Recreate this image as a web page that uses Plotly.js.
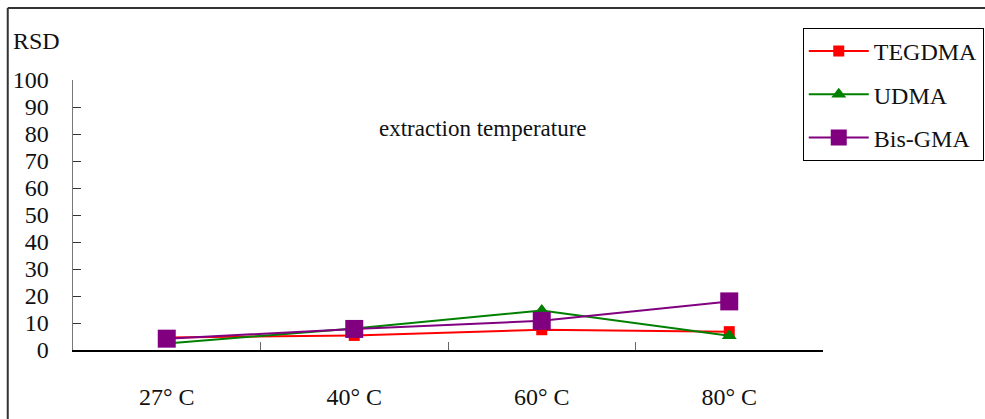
<!DOCTYPE html>
<html>
<head>
<meta charset="utf-8">
<script src="https://cdn.plot.ly/plotly-3.0.1.min.js"></script>
<style>
  html, body { margin: 0; padding: 0; background: #fff; }
  #chart { width: 985px; height: 419px; }
</style>
</head>
<body>
<div id="chart"></div>
<script>
// Extraction temperatures and RSD (%) for each monomer
const temperatures = ['27° C', '40° C', '60° C', '80° C'];
const tegdma = [4.6, 5.4, 7.5, 6.8];
const udma   = [2.4, 8.0, 14.6, 5.3];
const bisgma = [4.2, 7.8, 10.8, 18.0];

const FONT = 'Liberation Serif, Times New Roman, serif';

const traces = [
  { name: 'TEGDMA', y: tegdma, color: '#ff0000', symbol: 'square', size: 11 },
  { name: 'UDMA', y: udma, color: '#008000', symbol: 'triangle-up', size: 13 },
  { name: 'Bis-GMA', y: bisgma, color: '#800080', symbol: 'square', size: 18 }
].map((s, i) => ({
  type: 'scatter',
  mode: 'lines+markers',
  x: temperatures,
  y: s.y,
  name: s.name,
  legendgroup: 'g' + i,
  line: { color: s.color, width: 2 },
  marker: { color: s.color, symbol: s.symbol, size: s.size }
}));

const layout = {
  width: 985,
  height: 419,
  margin: { l: 73, r: 162, t: 80, b: 69, autoexpand: false },
  paper_bgcolor: '#fff',
  plot_bgcolor: '#fff',
  font: { family: FONT, size: 24, color: '#111' },
  showlegend: true,
  legend: {
    x: 0.973, y: 1.193, xanchor: 'left', yanchor: 'top',
    bordercolor: '#000', borderwidth: 1,
    font: { family: FONT, size: 24, color: '#111' },
    tracegroupgap: 9,
    itemwidth: 60
  },
  xaxis: {
    type: 'category',
    range: [-0.5, 3.5],
    tickson: 'boundaries',
    ticks: 'inside', ticklen: 8, tickcolor: '#666', tickwidth: 1,
    showline: true, linecolor: '#000', linewidth: 2,
    showgrid: false, zeroline: false,
    ticklabelstandoff: 24,
    tickfont: { family: FONT, size: 24, color: '#111' }
  },
  yaxis: {
    range: [0, 100],
    tickmode: 'linear', tick0: 0, dtick: 10,
    ticks: 'inside', ticklen: 8, tickcolor: '#333', tickwidth: 1,
    showline: true, linecolor: '#777', linewidth: 1.5,
    showgrid: false, zeroline: false,
    ticklabelstandoff: 18,
    tickfont: { family: FONT, size: 24, color: '#111' }
  },
  annotations: [
    { text: 'RSD', xref: 'paper', yref: 'paper', x: -0.083, y: 1.144,
      xanchor: 'left', yanchor: 'middle', showarrow: false,
      font: { family: FONT, size: 24, color: '#111' } },
    { text: 'extraction temperature', xref: 'paper', yref: 'paper', x: 0.546, y: 0.822,
      xanchor: 'center', yanchor: 'middle', showarrow: false,
      font: { family: FONT, size: 23, color: '#111' } }
  ],
  shapes: [
    // outer frame (left and top edges)
    { type: 'line', xref: 'paper', yref: 'paper', x0: -0.087, x1: -0.087, y0: 1.267, y1: -0.3,
      line: { color: '#333', width: 2 } },
    { type: 'line', xref: 'paper', yref: 'paper', x0: -0.087, x1: 1.3, y0: 1.267, y1: 1.267,
      line: { color: '#333', width: 2 } }
  ]
};

Plotly.newPlot('chart', traces, layout, { displayModeBar: false, staticPlot: true });
</script>
</body>
</html>
